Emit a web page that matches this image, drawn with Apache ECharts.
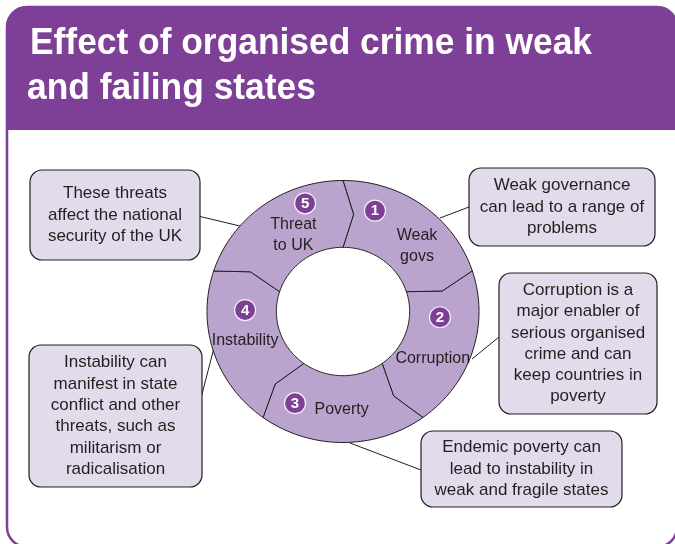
<!DOCTYPE html>
<html>
<head>
<meta charset="utf-8">
<script src="https://cdn.jsdelivr.net/npm/echarts@6/dist/echarts.min.js"></script>
<style>
  html, body { margin: 0; padding: 0; background: #fff; }
  #chart { width: 675px; height: 544px; }
</style>
</head>
<body>
<div id="chart"></div>
<script>
// ---- data ----
const TITLE_LINES = ['Effect of organised crime in weak', 'and failing states']
const STEP_NUMBERS = ['1', '2', '3', '4', '5']
const STEP_LABELS = ['Weak\ngovs', 'Corruption', 'Poverty', 'Instability', 'Threat\nto UK']
const STEP_SHARES = [1, 1, 1, 1, 1]
const CALLOUTS = [
  'Weak governance\ncan lead to a range of\nproblems',
  'Corruption is a\nmajor enabler of\nserious organised\ncrime and can\nkeep countries in\npoverty',
  'Endemic poverty can\nlead to instability in\nweak and fragile states',
  'Instability can\nmanifest in state\nconflict and other\nthreats, such as\nmilitarism or\nradicalisation',
  'These threats\naffect the national\nsecurity of the UK'
]

// ---- layout ----
const PURPLE = '#7E3F96'
const SEG_FILL = '#BAA3CD'
const BOX_FILL = '#E2DBEB'
const INK = '#231F20'
const FONT = "'Liberation Sans', Arial, sans-serif"
const RING = { cx: 343, cy: 311.5, rx: 136, ry: 131, inner: 0.49, mid: 0.745, notch: 6 }
const BADGE_POS = [[0.235, 0.77], [0.713, -0.044], [-0.353, -0.70], [-0.72, 0.011], [-0.279, 0.826]]
const LABEL_POS = [[0.544, 0.5], [0.66, -0.357], [-0.01, -0.747], [-0.72, -0.223], [-0.365, 0.58]]
const BOX_RECTS = [[469, 168, 186, 78], [499, 273, 158, 141], [421, 431, 201, 76], [29, 345, 173, 142], [30, 170, 170, 90]]
const LEADERS = [
  [[469, 207], [440, 218]],
  [[499, 337], [472, 359]],
  [[350, 443], [421, 470]],
  [[201, 398], [216, 340]],
  [[200, 216.5], [240, 226]]
]
const TITLE_FONT = "bold 37px 'Liberation Sans', Arial, sans-serif"
const TITLE_WIDTH = 562

// segments run clockwise from 12 o'clock
const total = STEP_SHARES.reduce((a, b) => a + b, 0)
let acc = 0
const segData = STEP_SHARES.map((s, i) => {
  const a0 = 90 - acc / total * 360
  acc += s
  const a1 = 90 - acc / total * 360
  return [i, a0, a1]
})

function ringPoint(api, deg, frac) {
  const t = deg * Math.PI / 180
  return api.coord([Math.cos(t) * frac, Math.sin(t) * frac])
}

function renderSegment(params, api) {
  const i = api.value(0)
  const a0 = api.value(1)
  const a1 = api.value(2)
  const n = 48
  const pts = []
  for (let k = 0; k <= n; k++) pts.push(ringPoint(api, a0 + (a1 - a0) * k / n, 1))
  pts.push(ringPoint(api, a1 - RING.notch, RING.mid))
  for (let k = 0; k <= n; k++) pts.push(ringPoint(api, a1 + (a0 - a1) * k / n, RING.inner))
  pts.push(ringPoint(api, a0 - RING.notch, RING.mid))

  const b = api.coord(BADGE_POS[i])
  const l = api.coord(LABEL_POS[i])
  return {
    type: 'group',
    children: [
      {
        type: 'polygon',
        shape: { points: pts },
        style: { fill: SEG_FILL, stroke: INK, lineWidth: 1 }
      },
      {
        type: 'circle',
        shape: { cx: b[0], cy: b[1], r: 10.5 },
        style: { fill: PURPLE, stroke: '#F4EEF7', lineWidth: 1.2 }
      },
      {
        type: 'text',
        style: {
          text: STEP_NUMBERS[i], x: b[0], y: b[1] + 0.5,
          fill: '#fff', fontFamily: FONT, fontWeight: 'bold', fontSize: 15,
          align: 'center', verticalAlign: 'middle'
        }
      },
      {
        type: 'text',
        style: {
          text: STEP_LABELS[i], x: l[0], y: l[1],
          fill: INK, fontFamily: FONT, fontSize: 16, lineHeight: 21,
          align: 'center', verticalAlign: 'middle'
        }
      }
    ]
  }
}

// squeeze the title into a condensed look
const measureCtx = document.createElement('canvas').getContext('2d')
measureCtx.font = TITLE_FONT
const titleScale = TITLE_WIDTH / measureCtx.measureText(TITLE_LINES[0]).width

const graphics = [
  {
    type: 'rect', z: 0,
    shape: { x: 7, y: 7, width: 670, height: 540, r: 20 },
    style: { fill: '#fff', stroke: PURPLE, lineWidth: 2.5 }
  },
  {
    type: 'rect', z: 1,
    shape: { x: 6, y: 6, width: 672, height: 124, r: [21, 21, 0, 0] },
    style: { fill: PURPLE }
  }
]
TITLE_LINES.forEach((t, i) => {
  graphics.push({
    type: 'text', z: 2,
    x: i === 0 ? 30 : 27, y: 44 + i * 45,
    scaleX: titleScale,
    style: {
      text: t, x: 0, y: 0,
      fill: '#fff', font: TITLE_FONT, verticalAlign: 'middle'
    }
  })
})
LEADERS.forEach((seg) => {
  graphics.push({
    type: 'line', z: 1,
    shape: { x1: seg[0][0], y1: seg[0][1], x2: seg[1][0], y2: seg[1][1] },
    style: { stroke: INK, lineWidth: 1 }
  })
})
CALLOUTS.forEach((txt, i) => {
  const [x, y, w, h] = BOX_RECTS[i]
  graphics.push({
    type: 'rect', z: 3,
    shape: { x, y, width: w, height: h, r: 12 },
    style: { fill: BOX_FILL, stroke: INK, lineWidth: 1.2 }
  })
  graphics.push({
    type: 'text', z: 4,
    style: {
      text: txt, x: x + w / 2, y: y + h / 2,
      fill: INK, fontFamily: FONT, fontSize: 17, lineHeight: 21.3,
      align: 'center', verticalAlign: 'middle'
    }
  })
})

const chart = echarts.init(document.getElementById('chart'), null, { renderer: 'canvas' })
chart.setOption({
  animation: false,
  graphic: graphics,
  grid: {
    left: RING.cx - RING.rx, top: RING.cy - RING.ry,
    width: RING.rx * 2, height: RING.ry * 2
  },
  xAxis: { type: 'value', min: -1, max: 1, show: false },
  yAxis: { type: 'value', min: -1, max: 1, show: false },
  series: [{
    type: 'custom',
    coordinateSystem: 'cartesian2d',
    renderItem: renderSegment,
    data: segData,
    z: 5
  }]
})
</script>
</body>
</html>
